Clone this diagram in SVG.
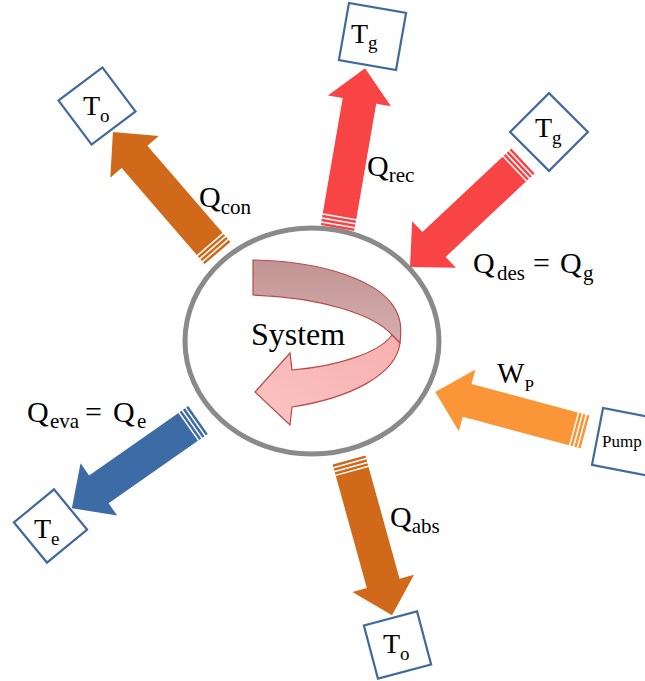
<svg xmlns="http://www.w3.org/2000/svg" width="645" height="681" viewBox="0 0 645 681">
<style>
.box{fill:#fff;stroke:#41699B;stroke-width:2.2}
.serif{font-family:'Liberation Serif','DejaVu Serif','Times New Roman',serif}
.big{font-size:30px}
.sub{font-size:21px}
.tb{font-size:28px}
.ts{font-size:19px}
.orD{fill:#D0691A}
.red{fill:#F94446}
.orL{fill:#FB9638}
.blu{fill:#3C6BA5}
</style>
<defs>
<linearGradient id="gDark" x1="0" y1="0" x2="0" y2="1">
<stop offset="0" stop-color="#C29494"/>
<stop offset="1" stop-color="#D6AEAE"/>
</linearGradient>
<linearGradient id="gLight" x1="1" y1="0" x2="0" y2="1">
<stop offset="0" stop-color="#F7AFAF"/>
<stop offset="1" stop-color="#FAC4C4"/>
</linearGradient>
</defs>

<g id="system">
<ellipse cx="312" cy="341" rx="127" ry="113" fill="#fff" stroke="#8A8A8A" stroke-width="5"/>
<path d="M253,260 C320,261 385,280 398,315 C402,325 401,335 400,343 L392,335 C375,315 320,297 253,295 Z" fill="url(#gDark)" stroke="#B84C4A" stroke-width="1.2"/>
<path d="M400,343 C396,375 350,398 292,407 L290,425 L255,392 L290,353 L292,370 C340,366 380,352 392,335 Z" fill="url(#gLight)" stroke="#B84C4A" stroke-width="1.2"/>
<text class="serif" x="298" y="345" font-size="32" text-anchor="middle">System</text>
</g>

<g id="connectors">
<g id="arrow-qcon" class="orD" transform="translate(217.5,253) rotate(229.2)">
<path d="M12,-17 L127,-17 L127,-32 L160,0 L127,32 L127,17 L12,17 Z"/>
<rect x="0" y="-17" width="2.5" height="34"/><rect x="4" y="-17" width="2.5" height="34"/><rect x="8" y="-17" width="2.5" height="34"/>
</g>
<g id="arrow-qrec" class="red" transform="translate(337.5,228) rotate(-80.2)">
<path d="M12,-17 L129,-17 L129,-32 L162,0 L129,32 L129,17 L12,17 Z"/>
<rect x="0" y="-17" width="2.5" height="34"/><rect x="4" y="-17" width="2.5" height="34"/><rect x="8" y="-17" width="2.5" height="34"/>
</g>
<g id="arrow-qdes" class="red" transform="translate(523,161) rotate(136.8)">
<path d="M12,-17 L122,-17 L122,-32 L155,0 L122,32 L122,17 L12,17 Z"/>
<rect x="0" y="-17" width="2.5" height="34"/><rect x="4" y="-17" width="2.5" height="34"/><rect x="8" y="-17" width="2.5" height="34"/>
</g>
<g id="arrow-wp" class="orL" transform="translate(585,432) rotate(195)">
<path d="M12,-17 L122,-17 L122,-32 L155,0 L122,32 L122,17 L12,17 Z"/>
<rect x="0" y="-17" width="2.5" height="34"/><rect x="4" y="-17" width="2.5" height="34"/><rect x="8" y="-17" width="2.5" height="34"/>
</g>
<g id="arrow-qabs" class="orD" transform="translate(349,460) rotate(74.5)">
<path d="M12,-17 L128,-17 L128,-32 L161,0 L128,32 L128,17 L12,17 Z"/>
<rect x="0" y="-17" width="2.5" height="34"/><rect x="4" y="-17" width="2.5" height="34"/><rect x="8" y="-17" width="2.5" height="34"/>
</g>
<g id="arrow-qeva" class="blu" transform="translate(198,420) rotate(145)">
<path d="M12,-17 L121,-17 L121,-32 L154,0 L121,32 L121,17 L12,17 Z"/>
<rect x="0" y="-17" width="2.5" height="34"/><rect x="4" y="-17" width="2.5" height="34"/><rect x="8" y="-17" width="2.5" height="34"/>
</g>
</g>

<g id="labels">
<text class="serif big" x="199" y="207">Q<tspan class="sub" dy="7">con</tspan></text>
<text class="serif big" x="367" y="176">Q<tspan class="sub" dy="6">rec</tspan></text>
<text class="serif big" y="273"><tspan x="473">Q</tspan><tspan class="sub" x="497" dy="7">des</tspan><tspan x="533" dy="-7">=</tspan><tspan x="560">Q</tspan><tspan class="sub" x="583" dy="7">g</tspan></text>
<text class="serif" font-size="29" x="497" y="383">W<tspan font-size="17" dy="8">P</tspan></text>
<text class="serif big" y="422"><tspan x="27">Q</tspan><tspan class="sub" x="50" dy="6">eva</tspan><tspan x="85" dy="-6">=</tspan><tspan x="113">Q</tspan><tspan class="sub" x="137" dy="6">e</tspan></text>
<text class="serif big" x="390" y="527">Q<tspan class="sub" dy="6">abs</tspan></text>
</g>

<g id="nodes">
<g id="node-to-top">
<rect class="box" x="-27.5" y="-27.5" width="55" height="55" transform="translate(97,106) rotate(-37)"/>
<text class="serif tb" x="83" y="115">T<tspan class="ts" dy="7">o</tspan></text>
</g>
<g id="node-tg-top">
<rect class="box" x="-29" y="-29" width="58" height="58" transform="translate(372.5,36.5) rotate(10)"/>
<text class="serif tb" x="351" y="43">T<tspan class="ts" dy="6">g</tspan></text>
</g>
<g id="node-tg-right">
<rect class="box" x="-27.5" y="-27.5" width="55" height="55" transform="translate(549,132) rotate(45)"/>
<text class="serif tb" x="535" y="137">T<tspan class="ts" dy="7">g</tspan></text>
</g>
<g id="node-pump">
<rect class="box" x="-29" y="-29" width="58" height="58" transform="translate(626,442) rotate(11)"/>
<text class="serif" font-size="17" x="602" y="447">Pump</text>
</g>
<g id="node-te">
<rect class="box" x="-26" y="-26" width="52" height="52" transform="translate(50.5,526) rotate(-39.5)"/>
<text class="serif tb" x="34" y="538">T<tspan class="ts" dy="7">e</tspan></text>
</g>
<g id="node-to-bottom">
<rect class="box" x="-27.5" y="-27.5" width="55" height="55" transform="translate(397.5,645) rotate(-14.8)"/>
<text class="serif tb" x="383" y="653">T<tspan class="ts" dy="7">o</tspan></text>
</g>
</g>
</svg>
